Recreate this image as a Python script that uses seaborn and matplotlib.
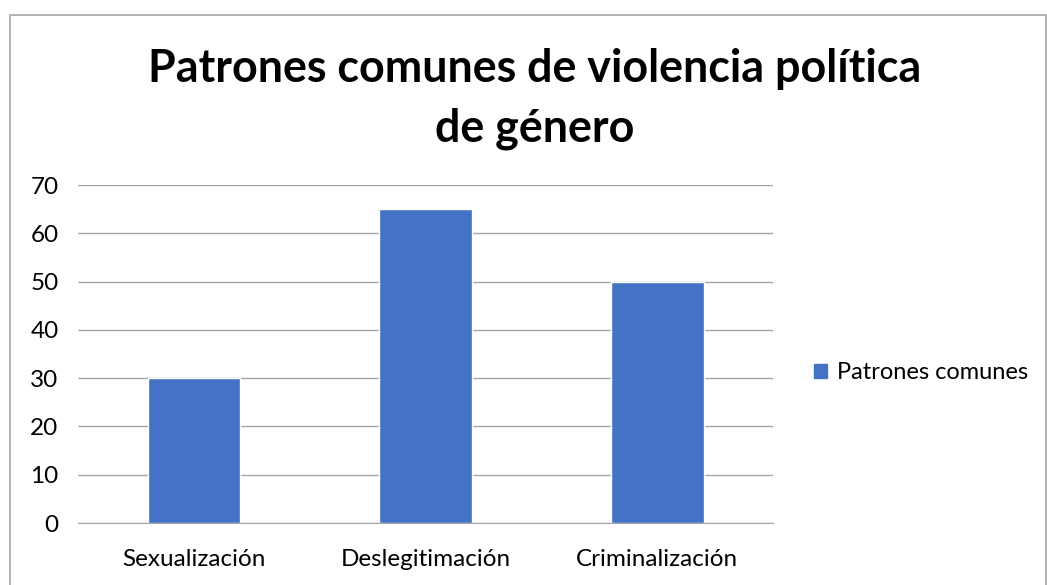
import pandas as pd
import matplotlib.pyplot as plt
import matplotlib.patches as mpatches
import seaborn as sns

categorias = ["Sexualización", "Deslegitimación", "Criminalización"]
valores = [30, 65, 50]
serie = "Patrones comunes"
titulo = "Patrones comunes de violencia política\nde género"
yticks = [0, 10, 20, 30, 40, 50, 60, 70]

df = pd.DataFrame({"categoria": categorias, "valor": valores, "serie": serie})

sns.set_style("white")
plt.rcParams["font.family"] = ["Lato", "DejaVu Sans"]
plt.rcParams["text.color"] = "black"
plt.rcParams["xtick.labelcolor"] = "black"
plt.rcParams["ytick.labelcolor"] = "black"

fig = plt.figure(figsize=(10.47, 5.85), dpi=100)
ax = fig.add_axes([78 / 1047, 1 - 523 / 585, (773 - 78) / 1047, (523 - 185) / 585])

sns.barplot(data=df, x="categoria", y="valor", hue="serie", palette=["#4472C4"],
            width=0.4, ax=ax, legend=False, saturation=1)

gris = "#a6a6a6"
ax.set_ylim(0, 70)
ax.set_xlim(-0.5, 2.5)
ax.set_yticks(yticks)
ax.set_yticklabels([str(v) for v in yticks], fontsize=17.5, color="black")
ax.set_xticks(range(len(categorias)))
ax.set_xticklabels(categorias, fontsize=17.5, color="black")
ax.tick_params(axis="x", length=0, pad=19)
ax.tick_params(axis="y", length=7, color=gris, pad=7)
ax.set_xticks([-0.5, 0.5, 1.5, 2.5], minor=True)
ax.tick_params(axis="x", which="minor", length=7, color=gris)
ax.yaxis.grid(True, color=gris, linewidth=1)
ax.set_axisbelow(True)
for lado in ["top", "right", "left"]:
    ax.spines[lado].set_visible(False)
ax.spines["bottom"].set_color(gris)
ax.spines["bottom"].set_zorder(0.5)
ax.set_xlabel("")
ax.set_ylabel("")

handle = mpatches.Patch(color="#4472C4", label=serie)
fig.legend(handles=[handle], loc="center left", bbox_to_anchor=(793 / 1047, 1 - 373 / 585),
           frameon=False, fontsize=17, handlelength=0.55, handleheight=0.55, handletextpad=0.4)

fig.text(535 / 1047, 1 - 99 / 585, titulo, ha="center", va="center", fontsize=32.3,
         fontweight="bold", linespacing=1.5, color="black")

borde = mpatches.Rectangle((10 / 1047, -0.1), 1036 / 1047, 1.1 - 15 / 585,
                           transform=fig.transFigure, fill=False, edgecolor=gris, linewidth=1.2)
fig.patches.append(borde)

fig.savefig("out.png", dpi=100)
